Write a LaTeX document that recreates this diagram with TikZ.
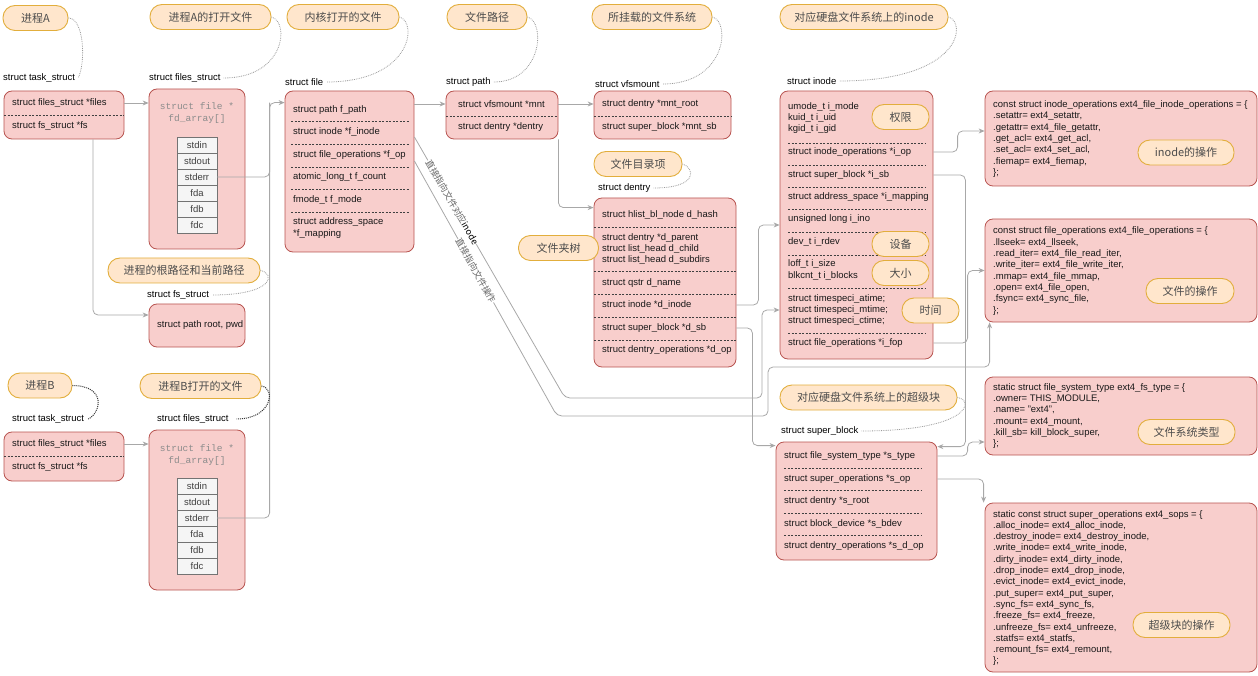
\documentclass[tikz,border=0pt]{standalone}
\usepackage{fontspec}
\setmainfont{Liberation Sans}
\newfontfamily\cjk{Noto Sans CJK SC}
\newfontfamily\monofont{Liberation Mono}
\usetikzlibrary{arrows.meta}
\usetikzlibrary{calc}
\definecolor{boxfill}{HTML}{F8CECC}
\definecolor{boxline}{HTML}{B85450}
\definecolor{notefill}{HTML}{FFE6CC}
\definecolor{noteline}{HTML}{E2AE3C}
\definecolor{wire}{HTML}{A8A8A8}
\definecolor{cellfill}{HTML}{F5F5F5}
\tikzstyle{structbox}=[draw=boxline,fill=boxfill,rounded corners=8pt,line width=0.8pt,inner sep=0pt]
\tikzstyle{note}=[draw=noteline,fill=notefill,rounded corners=12pt,line width=0.9pt,minimum height=25pt,font=\cjk\fontsize{11}{13}\selectfont,text=black!70]
\tikzstyle{field}=[anchor=west,inner sep=0pt,align=left,font=\fontsize{9.5}{11.3}\selectfont,text=black!90]
\tikzstyle{tag}=[anchor=west,inner sep=0pt,font=\fontsize{9.5}{11}\selectfont]
\tikzstyle{fdhead}=[inner sep=0pt,align=center,font=\monofont\fontsize{9.5}{12}\selectfont,text=black!45]
\tikzstyle{cell}=[draw=black!55,fill=cellfill,minimum width=40pt,minimum height=16pt,inner sep=0pt,font=\fontsize{9.5}{11}\selectfont,text=black!75]
\tikzstyle{sep}=[draw=black!75,dash pattern=on 2pt off 1.5pt,line width=0.5pt]
\tikzstyle{conn}=[draw=wire,line width=0.8pt,rounded corners=5pt,-{Stealth[length=6pt,width=5pt]}]
\tikzstyle{wireline}=[draw=wire,line width=0.8pt,rounded corners=5pt]
\tikzstyle{hint}=[draw=black!40,densely dotted,line width=0.8pt]
\tikzstyle{darkhint}=[draw=black!80,densely dotted,line width=1pt]
\tikzstyle{slopetag}=[sloped,fill=white,inner sep=0.5pt,font=\cjk\fontsize{9}{10}\selectfont,text=black!60]

\begin{document}
\begin{tikzpicture}[x=1pt,y=-1pt]
  \useasboundingbox (0,0) rectangle (1258,676);

  % the structures
  \foreach \name/\pos/\w/\h in {taskA/{(64,115)}/120pt/48pt, filesA/{(197,169)}/96pt/160pt,
      file/{(349.5,171.5)}/129pt/161pt, vpath/{(502,115)}/112pt/48pt, vmount/{(662.5,115)}/137pt/48pt,
      dentry/{(665,282.5)}/142pt/169pt, fsA/{(197,325.5)}/96pt/43pt, taskB/{(64,456.5)}/120pt/49pt,
      filesB/{(197,510)}/96pt/160pt, inode/{(856.5,225)}/153pt/268pt, sblock/{(856.5,501)}/161pt/118pt,
      iops/{(1121,138.5)}/272pt/95pt, fops/{(1121,270.5)}/272pt/103pt,
      fstype/{(1121,416)}/272pt/78pt, sops/{(1121,587.5)}/272pt/169pt}
    \node[structbox,minimum width=\w,minimum height=\h] (\name) at \pos {};

  \foreach \name/\x/\y/\txt in {taskAfiles/12/103/{struct files\_struct *files}, taskAfs/12/126/{struct fs\_struct *fs},
      taskBfiles/12/444/{struct files\_struct *files}, taskBfs/12/467/{struct fs\_struct *fs},
      fpath/293/110/{struct path f\_path}, finode/293/132/{struct inode *f\_inode},
      fop/293/155/{struct file\_operations *f\_op}, fcount/293/177/{atomic\_long\_t f\_count},
      fmode/293/200/{fmode\_t f\_mode}, fmap/293/228/{struct address\_space\\*f\_mapping},
      pathmnt/458/104/{struct vfsmount *mnt}, pathdent/458/127/{struct dentry *dentry},
      mntroot/602/104/{struct dentry *mnt\_root}, mntsb/602/127/{struct super\_block *mnt\_sb},
      dhash/602/215/{struct hlist\_bl\_node d\_hash},
      dtree/602/249/{struct dentry *d\_parent\\struct list\_head d\_child\\struct list\_head d\_subdirs},
      dname/602/283/{struct qstr d\_name}, dinode/602/305/{struct inode *d\_inode},
      dsb/602/328/{struct super\_block *d\_sb}, dop/602/350/{struct dentry\_operations *d\_op},
      fsroot/157/325/{struct path root, pwd},
      imode/788/118/{umode\_t i\_mode\\kuid\_t i\_uid\\kgid\_t i\_gid},
      iop/788/152/{struct inode\_operations *i\_op}, isb/788/175/{struct super\_block *i\_sb},
      imap/788/197/{struct address\_space *i\_mapping}, ino/788/219/{unsigned long i\_ino},
      irdev/788/242/{dev\_t i\_rdev}, isize/788/270/{loff\_t i\_size\\blkcnt\_t i\_blocks},
      itime/788/310/{struct timespeci\_atime;\\struct timespeci\_mtime;\\struct timespeci\_ctime;},
      ifop/788/343/{struct file\_operations *i\_fop},
      stype/784/456/{struct file\_system\_type *s\_type}, sop/784/479/{struct super\_operations *s\_op},
      sroot/784/501/{struct dentry *s\_root}, sbdev/784/524/{struct block\_device *s\_bdev},
      sdop/784/546/{struct dentry\_operations *s\_d\_op}}
    \node[field] (\name) at (\x,\y) {\txt};

  \foreach \xa/\xb/\ys in {4/124/{115}, 4/124/{456}, 291/409/{121,144,167,189,212}, 446/558/{116},
      594/731/{116}, 594/736/{227,271,294,317,340}, 788/925/{143,165,187,209,232,255,288,333},
      784/921/{468,490,513,535}}
    \foreach \y in \ys
      \draw[sep] (\xa,\y) -- (\xb,\y);

  % fd_array
  \node[fdhead] (fdAhead) at (197,113) {struct file *\\fd\_array[]};
  \node[fdhead] (fdBhead) at (197,455) {struct file *\\fd\_array[]};
  \foreach \fd [count=\i] in {stdin,stdout,stderr,fda,fdb,fdc} {
    \node[cell] (fdA-\fd) at (197,129+16*\i) {\fd};
    \node[cell] (fdB-\fd) at (197,470+16*\i) {\fd};
  }

  % code of ext4
  \node[field] (iopsText) at (993,139) {const struct inode\_operations ext4\_file\_inode\_operations = \{\\.setattr= ext4\_setattr,\\.getattr= ext4\_file\_getattr,\\.get\_acl= ext4\_get\_acl,\\.set\_acl= ext4\_set\_acl,\\.fiemap= ext4\_fiemap,\\\};};
  \node[field] (fopsText) at (993,271) {const struct file\_operations ext4\_file\_operations = \{\\.llseek= ext4\_llseek,\\.read\_iter= ext4\_file\_read\_iter,\\.write\_iter= ext4\_file\_write\_iter,\\.mmap= ext4\_file\_mmap,\\.open= ext4\_file\_open,\\.fsync= ext4\_sync\_file,\\\};};
  \node[field] (fstypeText) at (993,416) {static struct file\_system\_type ext4\_fs\_type = \{\\.owner= THIS\_MODULE,\\.name= "ext4",\\.mount= ext4\_mount,\\.kill\_sb= kill\_block\_super,\\\};};
  \node[field] (sopsText) at (993,588) {static const struct super\_operations ext4\_sops = \{\\.alloc\_inode= ext4\_alloc\_inode,\\.destroy\_inode= ext4\_destroy\_inode,\\.write\_inode= ext4\_write\_inode,\\.dirty\_inode= ext4\_dirty\_inode,\\.drop\_inode= ext4\_drop\_inode,\\.evict\_inode= ext4\_evict\_inode,\\.put\_super= ext4\_put\_super,\\.sync\_fs= ext4\_sync\_fs,\\.freeze\_fs= ext4\_freeze,\\.unfreeze\_fs= ext4\_unfreeze,\\.statfs= ext4\_statfs,\\.remount\_fs= ext4\_remount,\\\};};

  \foreach \name/\x/\y/\txt in {tagTaskA/3/78/{struct task\_struct}, tagFilesA/149/78/{struct files\_struct},
      tagFile/285/82/{struct file}, tagPath/446/82/{struct path}, tagMount/595/84/{struct vfsmount},
      tagDentry/598/188/{struct dentry}, tagInode/787/81/{struct inode}, tagFs/147/295/{struct fs\_struct},
      tagTaskB/12/419/{struct task\_struct}, tagFilesB/157/419/{struct files\_struct},
      tagSb/781/431/{struct super\_block}}
    \node[tag] (\name) at (\x,\y) {\txt};

  % pointers
  \coordinate (fileIn) at ([yshift=-12pt]file.north west);
  \draw[conn] (taskA.east |- taskAfiles) -- (filesA.west |- taskAfiles);
  \draw[conn] ([xshift=29pt]taskA.south) |- ([yshift=10.5pt]fsA.west);
  \draw[conn] (fdA-stderr.east) -| ([xshift=-15pt]fileIn) -- (fileIn);
  \draw[wireline] (fdB-stderr.east) -| ([xshift=-15pt]fileIn);
  \draw[conn] (taskB.east |- taskBfiles) -- (filesB.west |- taskBfiles);
  \draw[conn] (file.east |- pathmnt) -- (vpath.west |- pathmnt);
  \draw[conn] (vpath.east |- pathmnt) -- (vmount.west |- pathmnt);
  \draw[conn] (vpath.south east) |- ([yshift=-10pt]dentry.north west);
  \draw[conn] (dentry.east |- dinode) -- ++(22,0) |- (inode.west |- 0,225);
  \draw[conn] (file.east |- 0,137) -- node[slopetag,pos=0.25] {直接指向文件对应\textcolor{black}{inode}} (565,398)
      -- (762,398) -- (762,310) -- (inode.west |- itime);
  \draw[conn] (file.east |- 0,161) -- node[slopetag,pos=0.43] {直接指向文件操作} (557,416)
      -- (768,416) -- (768,367) -| ([xshift=5pt]fops.south west);
  \draw[conn] (dentry.east |- dsb) -- ++(16,0) |- ([yshift=-4pt]sblock.north west);
  \draw[conn] (inode.east |- isb) -- ++(32,0) |- ([yshift=-5pt]sblock.north east);
  \draw[conn] (inode.east |- iop) -| ([xshift=-27pt,yshift=7.5pt]iops.west) -- ([yshift=7.5pt]iops.west);
  \draw[conn] (inode.east |- ifop) -| ([xshift=-17pt]fops.west) -- (fops.west);
  \draw[conn] (sblock.east |- stype) -| ([xshift=-17pt,yshift=-26pt]fstype.west) -- ([yshift=-26pt]fstype.west);
  \draw[conn] (sblock.east |- sop) -| ([xshift=-1pt]sops.north west);

  % notes
  \foreach \name/\pos/\w/\txt in {noteA/{(35.5,18)}/65pt/进程A, noteAfiles/{(210.5,17)}/121pt/进程A的打开文件,
      noteFile/{(343,17)}/112pt/内核打开的文件, notePath/{(487,17)}/80pt/文件路径,
      noteMnt/{(652,17)}/120pt/所挂载的文件系统, noteInode/{(864,17)}/168pt/对应硬盘文件系统上的inode,
      noteDentry/{(638,164)}/88pt/文件目录项, noteTree/{(558.5,248)}/80pt/文件夹树,
      noteFs/{(184,270.5)}/152pt/进程的根路径和当前路径, noteB/{(40,385.5)}/64pt/进程B,
      noteBfiles/{(200.5,386)}/121pt/进程B打开的文件, noteMode/{(900.5,117)}/57pt/权限,
      noteIops/{(1186,152.5)}/96pt/inode的操作, noteDev/{(900.5,244)}/57pt/设备,
      noteSize/{(900.5,273)}/57pt/大小, noteTime/{(930.5,310.5)}/57pt/时间,
      noteFops/{(1190,291)}/88pt/文件的操作, noteSB/{(868.5,397.5)}/177pt/对应硬盘文件系统上的超级块,
      noteType/{(1186.5,432)}/97pt/文件系统类型, noteSops/{(1181.5,625)}/97pt/超级块的操作}
    \node[note,minimum width=\w] (\name) at \pos {\txt};

  \foreach \a/\ax/\ay/\bx/\by/\d in {noteA/84/18/86/62/tagTaskA, noteAfiles/290/22/285/78/tagFilesA,
      noteFile/418/22/412/82/tagFile, notePath/546/22/542/82/tagPath, noteMnt/731/22/726/84/tagMount,
      noteInode/967/22/962/81/tagInode, noteDentry/694/167/700/188/tagDentry,
      noteFs/275/273/275/295/tagFs, noteSB/975/400/970/431/tagSb}
    \draw[hint] (\a.east) .. controls (\ax,\ay) and (\bx,\by) .. ([xshift=3pt]\d.east);
  \draw[darkhint] (noteB.east) .. controls (108,386) and (100,414) .. ([xshift=4pt]tagTaskB.east);
  \draw[darkhint] (noteBfiles.east) .. controls (276,388) and (272,419) .. ([xshift=8pt]tagFilesB.east);
\end{tikzpicture}
\end{document}
